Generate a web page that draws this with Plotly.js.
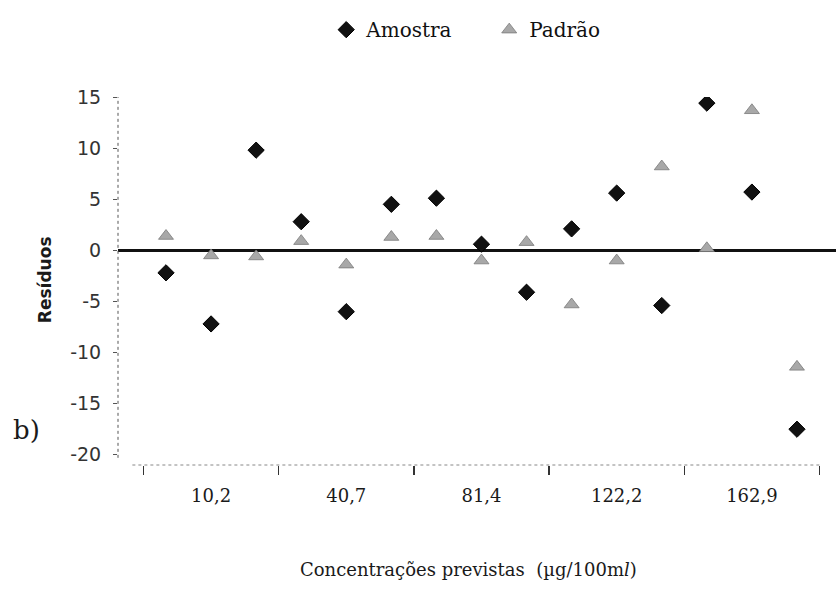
<!DOCTYPE html>
<html>
<head>
<meta charset="utf-8">
<script src="https://cdn.plot.ly/plotly-3.0.1.min.js"></script>
<style>html,body{margin:0;padding:0;background:#fff;}#chart{width:836px;height:596px;}</style>
</head>
<body>
<div id="chart"></div>
<script>
// Concentration levels (µg/100ml), three replicates each
const categories = ['10,2', '40,7', '81,4', '122,2', '162,9'];
const replicates = 3;
// Residuals, in replicate order within each level
const amostra = [-2.2, -7.2, 9.8, 2.8, -6.0, 4.5, 5.1, 0.6, -4.1, 2.1, 5.6, -5.4, 14.4, 5.7, -17.5];
const padrao  = [1.4, -0.5, -0.6, 0.9, -1.4, 1.3, 1.4, -1.0, 0.8, -5.3, -1.0, 8.2, 0.2, 13.7, -11.4];
const yTicks = [15, 10, 5, 0, -5, -10, -15, -20];

const idx = amostra.map((_, i) => i + 1);
const groupCenters = categories.map((_, g) => g * replicates + (replicates + 1) / 2);

const serif = 'DejaVu Serif, Liberation Serif, serif';
const sans = 'DejaVu Sans, Liberation Sans, Arial, sans-serif';

const traces = [
  {
    x: idx, y: amostra, name: 'Amostra', type: 'scatter', mode: 'markers',
    marker: {symbol: 'diamond', size: 12.5, color: '#111111', line: {width: 1, color: '#000'}}
  },
  {
    x: idx, y: padrao, name: 'Padrão', type: 'scatter', mode: 'markers',
    marker: {symbol: 'triangle-up', size: 13, color: '#a8a8a8', line: {width: 0.8, color: '#7a7a7a'}}
  }
];

const layout = {
  width: 836, height: 596,
  margin: {l: 118, r: 0, t: 97, b: 131, pad: 0},
  paper_bgcolor: '#ffffff', plot_bgcolor: '#ffffff',
  showlegend: true,
  legend: {
    orientation: 'h', x: 0.29, xanchor: 'left', y: 1.183, yanchor: 'middle',
    font: {family: serif, size: 20, color: '#111111'},
    entrywidth: 118, bgcolor: 'rgba(0,0,0,0)'
  },
  xaxis: {
    range: [-0.065, 15.866],
    showgrid: false, zeroline: false, showline: false,
    tickmode: 'array', tickvals: groupCenters, ticktext: categories,
    ticks: '', ticklabelstandoff: 18,
    tickfont: {family: serif, size: 18, color: '#1a1a1a'},
    minor: {tickmode: 'linear', tick0: 0.5, dtick: replicates, ticks: 'outside', ticklen: 9, tickwidth: 1.5, tickcolor: '#333', showgrid: false}
  },
  yaxis: {
    range: [-21, 15],
    showgrid: false, showline: false,
    zeroline: true, zerolinecolor: '#111111', zerolinewidth: 2.5,
    tickmode: 'array', tickvals: yTicks, ticktext: yTicks.map(String),
    ticks: 'outside', ticklen: 4, tickcolor: '#555', tickwidth: 1,
    ticklabelstandoff: 8,
    tickfont: {family: sans, size: 19, color: '#333333'}
  },
  shapes: [
    {type: 'line', xref: 'paper', yref: 'y', x0: 0, x1: 0, y0: -20.3, y1: 15, line: {color: '#555', width: 1, dash: 'dot'}},
    {type: 'line', xref: 'paper', yref: 'paper', x0: 0.02, x1: 0.98, y0: 0, y1: 0, line: {color: '#888', width: 1, dash: 'dot'}}
  ],
  annotations: [
    {text: 'Resíduos', xref: 'paper', yref: 'paper', x: -0.1017, y: 0.505, xanchor: 'center', yanchor: 'middle',
     textangle: -90, showarrow: false, font: {family: sans, size: 17, color: '#1a1a1a', weight: 'bold'}},
    {text: 'b)', xref: 'paper', yref: 'paper', x: -0.127, y: 0.095, xanchor: 'center', yanchor: 'middle',
     showarrow: false, font: {family: serif, size: 26, color: '#1a1a1a'}},
    {text: 'Concentrações previstas  (µg/100m<i>l</i>)', xref: 'paper', yref: 'paper', x: 0.488, y: -0.285,
     xanchor: 'center', yanchor: 'middle', showarrow: false, font: {family: serif, size: 18, color: '#1a1a1a'}}
  ]
};

Plotly.newPlot('chart', traces, layout, {displayModeBar: false, staticPlot: true});
</script>
</body>
</html>
